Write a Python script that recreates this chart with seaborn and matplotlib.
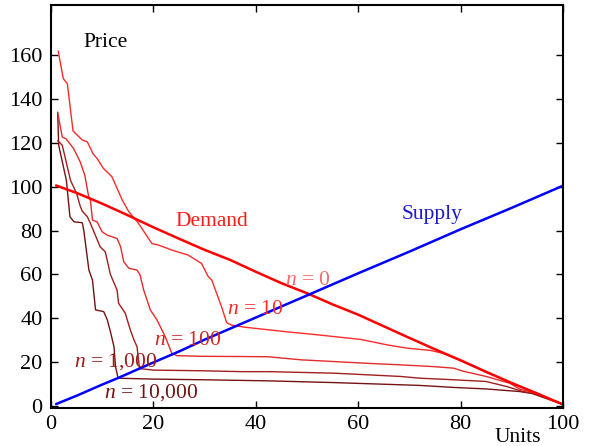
import numpy as np
import pandas as pd
import matplotlib
matplotlib.use('Agg')
import matplotlib.pyplot as plt
import seaborn as sns

# demand and supply curves
demand_x = [1, 5, 10, 15, 20, 25, 30, 35, 40, 45, 50, 55, 60, 65, 70, 75, 80, 85, 90, 95, 100]
demand_y = [100.6, 97.2, 92.3, 87.0, 81.5, 76.3, 71.2, 66.6, 61.2, 56.0, 51.4, 46.3, 41.6, 36.3, 31.0, 25.8, 20.8, 15.5, 10.4, 5.6, 0.6]

supply_x = [1, 5, 10, 13, 20, 25, 30, 40, 50, 60, 70, 80, 90, 100]
supply_y = [0.8, 4.6, 9.7, 12.6, 19.8, 24.8, 30.2, 40.3, 50.4, 60.5, 70.4, 80.6, 90.4, 100.5]

# simulated demand after n rounds
n10_x = [1.4, 2.4, 3.2, 4.3, 6.1, 7.1, 8.2, 9.0, 10.2, 11.9, 13.9, 15.2, 17.0, 19.7, 21.0, 23.6, 26.8,
         29.4, 30.7, 31.4, 33.3, 34.3, 35.2, 37.8, 45.6, 52.1, 60.5, 65.7, 69.6, 74.1, 76.5, 80, 85, 90, 95, 100]
n10_y = [162, 149.4, 147, 125.5, 121.4, 120.5, 115.1, 112.9, 108.5, 104.6, 94, 88.6, 83.6, 74.1, 73.4, 71.1, 68.8,
         65, 59, 57.4, 45.3, 38.0, 36.9, 35.9, 33.9, 32.4, 30.3, 27.8, 26.3, 25.3, 24.0, 20.6, 15.3, 10.3, 5.5, 0.6]

n100_x = [1.3, 2.2, 2.9, 4.4, 5.7, 6.6, 7.3, 7.7, 8.1, 9.0, 10.0, 11.0, 12.9, 13.6, 14.2, 15.2, 16.8, 17.4,
          18.1, 19.4, 20.7, 22.3, 23.6, 24.6, 29.4, 37.2, 42.4, 48.8, 55.3, 61.8, 68.3, 74.7, 78.6, 80.5,
          85.0, 89.6, 91.6, 95, 100]
n100_y = [134, 122.7, 122, 117.5, 111.4, 105.3, 96.2, 93.9, 84.8, 84.0, 79.4, 77.9, 76.4, 72.6, 65.8, 62.8, 62.0, 59.7,
          52.9, 43.8, 39.2, 31.6, 24.0, 22.9, 22.6, 22.5, 22.4, 21.0, 20.2, 19.4, 18.7, 17.9, 17.2, 15.8,
          13.4, 10.3, 7.6, 5.5, 0.6]

n1000_x = [1.3, 2.2, 3.8, 5.0, 5.7, 6.1, 7.1, 7.7, 9.6, 10.6, 11.6, 12.9, 13.2, 14.5, 15.5, 16.2, 16.8, 17.3,
           20.0, 29.4, 37.2, 42.4, 55.3, 68.3, 72.1, 78.6, 85.0, 89.0, 92.2, 95, 100]
n1000_y = [121, 119, 103, 97, 91.2, 88.9, 86.3, 83.3, 72.6, 70.3, 60.0, 52.9, 46.8, 42.3, 34.6, 30.1, 27.0, 17.0,
           16.3, 16.0, 15.6, 15.6, 14.9, 13.4, 12.6, 11.9, 11.1, 8.8, 6.5, 5.4, 0.6]

n10000_x = [1.3, 1.5, 3.0, 3.7, 4.5, 6.1, 6.4, 7.4, 8.1, 8.7, 10.3, 11.0, 11.6, 12.3, 12.6, 13.1,
            20.0, 29.4, 42.4, 55.3, 68.3, 72.1, 78.6, 85.0, 91.6, 94.0, 100]
n10000_y = [134, 119, 103, 86.3, 84.0, 83.6, 80.2, 62.0, 57.4, 43.8, 43.0, 39.2, 33.9, 27.0, 17.9, 12.6,
            12.2, 11.9, 11.4, 10.6, 9.6, 9.3, 8.4, 7.7, 6.5, 5.6, 0.6]

sns.set_theme(style='ticks')
plt.rcParams['font.family'] = ['Liberation Serif', 'DejaVu Serif']
plt.rcParams['mathtext.fontset'] = 'custom'
plt.rcParams['mathtext.rm'] = 'Liberation Serif'
plt.rcParams['mathtext.it'] = 'Liberation Serif:italic'

fig = plt.figure(figsize=(5.95, 4.46), dpi=100)
ax = fig.add_axes([51 / 595, 1 - 408 / 446, 512 / 595, 403 / 446])

curves = [
    (n10000_x, n10000_y, '#751212', 1.0),
    (n1000_x, n1000_y, '#a01f1f', 1.0),
    (n100_x, n100_y, '#e42a2a', 1.0),
    (n10_x, n10_y, '#ff2a2a', 1.0),
    (demand_x, demand_y, '#ff0000', 1.8),
    (supply_x, supply_y, '#0000ff', 1.8),
]
for xs, ys, col, lw in curves:
    sns.lineplot(x=xs, y=ys, ax=ax, color=col, linewidth=lw, sort=False, estimator=None)

ax.set_xlim(0, 100)
ax.set_ylim(-1, 183)
ax.set_xticks([0, 20, 40, 60, 80, 100])
ax.set_yticks([0, 20, 40, 60, 80, 100, 120, 140, 160])
ax.tick_params(axis='x', direction='in', length=5, width=1, labelsize=16, pad=5, top=True, colors='black')
ax.tick_params(axis='y', direction='in', length=5, width=1, labelsize=16, pad=6, right=True, colors='black')
for sp in ax.spines.values():
    sp.set_visible(True)
    sp.set_linewidth(1.5)
    sp.set_color('black')
ax.set_xlabel('')
ax.set_ylabel('')

fs = 15.5
ax.text(10.7, 166, 'Price', fontsize=fs, ha='center', va='center', color='black')
ax.text(31.4, 84, 'Demand', fontsize=fs, ha='center', va='center', color='#ff1a1a')
ax.text(74.5, 87.5, 'Supply', fontsize=fs, ha='center', va='center', color='#1a1acc')
ax.text(50.1, 57.4, r'$n$ = 0', fontsize=fs, ha='center', va='center', color='#f46a6a')
ax.text(39.8, 43.8, r'$n$ = 10', fontsize=fs, ha='center', va='center', color='#ff2a2a')
ax.text(26.7, 29.6, r'$n$ = 100', fontsize=fs, ha='center', va='center', color='#d42424')
ax.text(12.7, 20.0, r'$n$ = 1,000', fontsize=fs, ha='center', va='center', color='#9c1c1c')
ax.text(19.5, 5.9, r'$n$ = 10,000', fontsize=fs, ha='center', va='center', color='#701414')
ax.text(0.912, -0.072, 'Units', fontsize=fs, ha='center', va='center', color='black',
        transform=ax.transAxes)

fig.savefig('out.png', dpi=100)
